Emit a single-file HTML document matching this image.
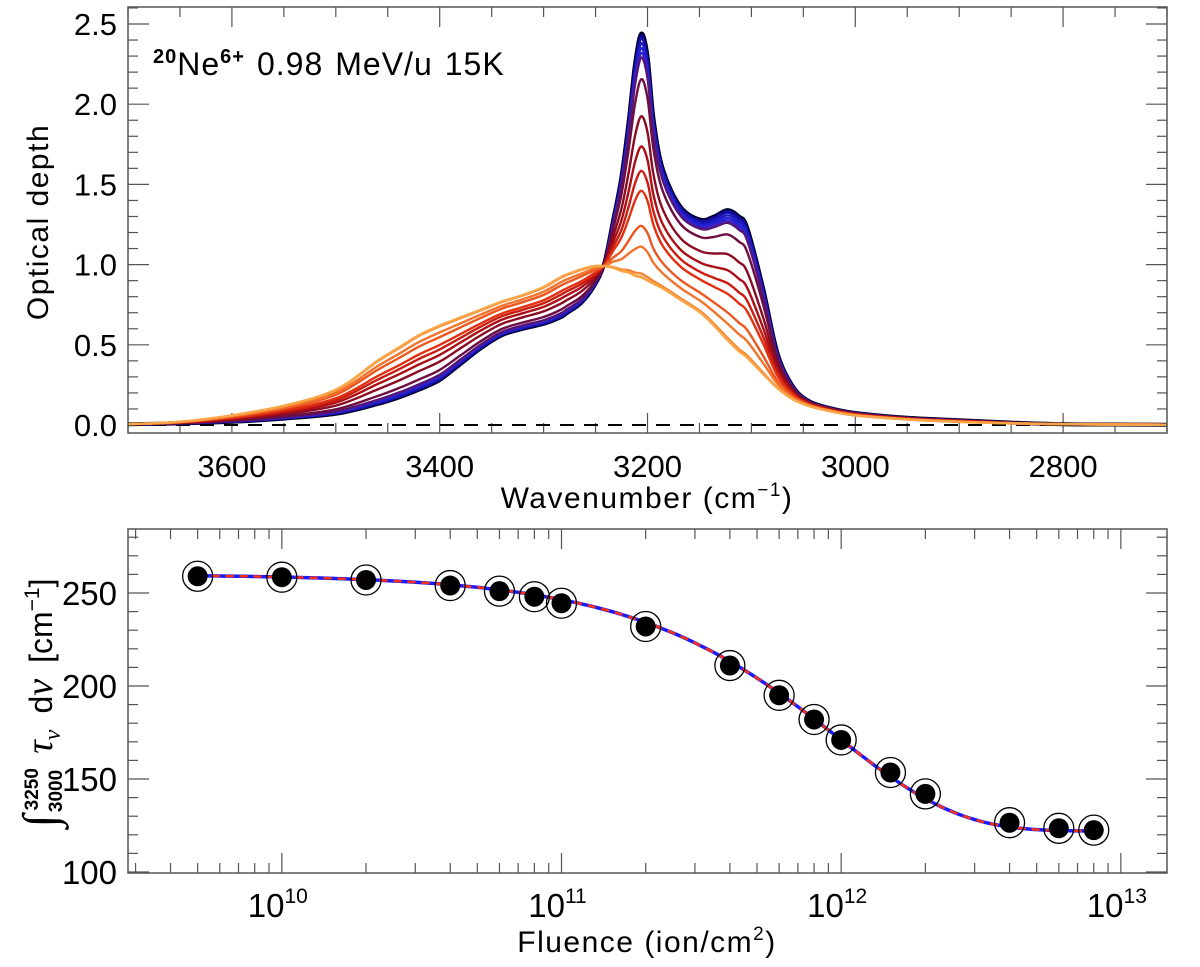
<!DOCTYPE html>
<html><head><meta charset="utf-8"><style>
html,body{margin:0;padding:0;background:#fff;}
svg{display:block;font-family:"Liberation Sans",sans-serif;}
</style></head><body>
<svg id="chart" width="1200" height="967" viewBox="0 0 1200 967" xmlns="http://www.w3.org/2000/svg">
<g id="topPanel"></g>
<g id="botPanel"></g>
</svg>
<script>
// ---- top panel data ----
const wavenumbers = [3700,3650,3600,3550,3500,3460,3440,3420,3400,3380,3360,3340,3320,3300,3284,3277,3264,3252,3242,3233,3225,3218,3212,3206,3200,3194,3185,3168,3149,3136,3123,3112,3104,3089,3075,3060,3045,3027,3000,2950,2900,2850,2800,2750,2700];
const initialDepth = [0.005,0.01,0.02,0.04,0.07,0.13,0.17,0.22,0.28,0.38,0.48,0.56,0.60,0.63,0.67,0.70,0.76,0.86,1.00,1.28,1.55,1.90,2.25,2.44,2.30,1.90,1.59,1.36,1.28,1.30,1.34,1.30,1.23,0.86,0.45,0.24,0.15,0.11,0.075,0.045,0.03,0.015,0.005,0.003,0.002];
const finalDepth   = [0.005,0.02,0.06,0.12,0.22,0.40,0.48,0.56,0.62,0.67,0.72,0.77,0.81,0.86,0.92,0.94,0.97,0.99,0.99,0.98,0.96,0.95,0.93,0.92,0.90,0.88,0.85,0.78,0.70,0.62,0.53,0.46,0.42,0.32,0.23,0.16,0.12,0.09,0.06,0.035,0.02,0.01,0.005,0.003,0.002];
const spectrumFluences = [0,5e9,1e10,2e10,4e10,6e10,8e10,1e11,2e11,4e11,6e11,8e11,1e12,1.5e12,2e12,4e12,6e12,8e12];
const yTicksTop = [0.0,0.5,1.0,1.5,2.0,2.5];
const xTicksTop = [3600,3400,3200,3000,2800];
// ---- bottom panel data ----
const fluences = [5e9,1e10,2e10,4e10,6e10,8e10,1e11,2e11,4e11,6e11,8e11,1e12,1.5e12,2e12,4e12,6e12,8e12];
const integrated = [259,258.5,257,254,251,248,244.5,232,211,195,182,171,153.5,142,126.5,123.5,122.5];
const fitParams = [260, 122, 1.035e-12]; // A0, Ainf, sigma
const yTicksBot = [100,150,200,250];
const xDecades = [10,11,12,13];

const NS="http://www.w3.org/2000/svg";
function el(tag,attrs,parent){const e=document.createElementNS(NS,tag);for(const k in attrs)e.setAttribute(k,attrs[k]);parent.appendChild(e);return e;}
function smoothPath(P){let d='M'+P[0][0].toFixed(1)+','+P[0][1].toFixed(1);
 for(let i=0;i<P.length-1;i++){const p0=P[Math.max(0,i-1)],p1=P[i],p2=P[i+1],p3=P[Math.min(P.length-1,i+2)];
  const c1=[p1[0]+(p2[0]-p0[0])/6,p1[1]+(p2[1]-p0[1])/6],c2=[p2[0]-(p3[0]-p1[0])/6,p2[1]-(p3[1]-p1[1])/6];
  d+=' C'+c1[0].toFixed(1)+','+c1[1].toFixed(1)+' '+c2[0].toFixed(1)+','+c2[1].toFixed(1)+' '+p2[0].toFixed(1)+','+p2[1].toFixed(1);}
 return d;}
const topG=document.getElementById('topPanel'), botG=document.getElementById('botPanel');
const FS=31;

// top axes
const L=128,R=1167,T1=7,B1=433;
const xT=w=>L+(3700-w)/1000*(R-L);
const yT=v=>425-v*160.4;
for(let w=3700;w>=2700;w-=50){const x=xT(w);const len=(w%200===0)?20:10;
 el('line',{x1:x,y1:B1,x2:x,y2:B1-len,stroke:'#555','stroke-width':1.2},topG);
 el('line',{x1:x,y1:T1,x2:x,y2:T1+len,stroke:'#555','stroke-width':1.2},topG);}
for(let i=0;i<=26;i++){const v=i/10;const y=yT(v);const len=(i%5===0)?21:10;
 el('line',{x1:L,y1:y,x2:L+len,y2:y,stroke:'#555','stroke-width':1.2},topG);
 el('line',{x1:R,y1:y,x2:R-len,y2:y,stroke:'#555','stroke-width':1.2},topG);}
yTicksTop.forEach(v=>{const t=el('text',{x:117,y:yT(v)+11,'text-anchor':'end','font-size':FS},topG);t.textContent=v.toFixed(1);
 
 });
xTicksTop.forEach(w=>{const t=el('text',{x:xT(w),y:477,'text-anchor':'middle','font-size':FS},topG);t.textContent=w;
 
 });
const zl=el('line',{x1:L,y1:yT(0),x2:R,y2:yT(0),stroke:'#000','stroke-width':2,'stroke-dasharray':'14,10'},topG);


const stops=[[0,[0,0,30]],[0.06,[10,0,120]],[0.33,[40,40,230]],[0.42,[90,20,110]],[0.5,[120,10,40]],[0.6,[180,15,20]],[0.7,[225,45,15]],[0.8,[240,110,40]],[1,[250,165,70]]];
function col(t){for(let i=1;i<stops.length;i++){if(t<=stops[i][0]){const a=stops[i-1],b=stops[i];const f=(t-a[0])/(b[0]-a[0]);return 'rgb('+a[1].map((c,k)=>Math.round(c+(b[1][k]-c)*f)).join(',')+')';}}return 'rgb(250,165,70)';}
const n=spectrumFluences.length;
spectrumFluences.forEach((F,i)=>{
 const frac=1-Math.exp(-fitParams[2]*F);
 const pts=wavenumbers.map((w,k)=>[xT(w),yT(initialDepth[k]+(finalDepth[k]-initialDepth[k])*frac)]);
 const p=el('path',{d:smoothPath(pts),fill:'none',stroke:col(i/(n-1)),'stroke-width':i===0?4:2.4,'stroke-linejoin':'round'},topG);
 
 
});
const frame1=el('rect',{x:L,y:T1,width:R-L,height:B1-T1,fill:'none',stroke:'#555','stroke-width':1.5},topG);


let tt=el('text',{x:153,y:75,'font-size':32,'letter-spacing':'1'},topG);
tt.innerHTML='<tspan font-size="20" font-weight="bold" dy="-12">20</tspan><tspan dy="12">Ne</tspan><tspan font-size="20" font-weight="bold" dy="-12">6+</tspan><tspan dy="12" dx="12">0.98</tspan><tspan dx="12">MeV/u</tspan><tspan dx="12">15K</tspan>';


let yt=el('text',{x:0,y:0,'font-size':30,'letter-spacing':'1.5','text-anchor':'middle',transform:'translate(48,222) rotate(-90)'},topG);yt.textContent='Optical depth';


let xt=el('text',{x:647,y:508,'font-size':30,'letter-spacing':'1.5','text-anchor':'middle'},topG);
xt.innerHTML='Wavenumber (cm<tspan font-size="19" dy="-12">−1</tspan><tspan dy="12">)</tspan>';



// bottom axes
const T2=529,B2=873;
const lmin=9.45,lmax=13.165;
const xB=F=>L+(Math.log10(F)-lmin)/(lmax-lmin)*(R-L);
const yB=v=>872-(v-100)/50*93;
const frame2=el('rect',{x:L,y:T2,width:R-L,height:B2-T2,fill:'none',stroke:'#555','stroke-width':1.5},botG);


for(let d=9;d<=13;d++)for(let m=1;m<=9;m++){const F=m*Math.pow(10,d);const lg=Math.log10(F);if(lg<lmin||lg>lmax)continue;const x=xB(F);const len=m===1?20:10;
 el('line',{x1:x,y1:B2,x2:x,y2:B2-len,stroke:'#555','stroke-width':1.2},botG);
 el('line',{x1:x,y1:T2,x2:x,y2:T2+len,stroke:'#555','stroke-width':1.2},botG);}
for(let v=100;v<=280;v+=10){const y=yB(v);const len=(v%50===0)?21:10;
 el('line',{x1:L,y1:y,x2:L+len,y2:y,stroke:'#555','stroke-width':1.2},botG);
 el('line',{x1:R,y1:y,x2:R-len,y2:y,stroke:'#555','stroke-width':1.2},botG);}
yTicksBot.forEach(v=>{const t=el('text',{x:117,y:yB(v)+12,'text-anchor':'end','font-size':33},botG);t.textContent=v;
 
 });
xDecades.forEach(d=>{const t=el('text',{x:xB(Math.pow(10,d))-4,y:917,'text-anchor':'middle','font-size':33},botG);
 t.innerHTML='10<tspan font-size="21" dy="-14">'+d+'</tspan>';
 
 });
const fpts=[];
for(let lg=Math.log10(fluences[0]);lg<=Math.log10(fluences[fluences.length-1])+1e-9;lg+=0.02){const F=Math.pow(10,lg);const v=fitParams[1]+(fitParams[0]-fitParams[1])*Math.exp(-fitParams[2]*F);fpts.push(xB(F).toFixed(1)+','+yB(v).toFixed(1));}
const fb=el('polyline',{points:fpts.join(' '),fill:'none',stroke:'#1a1aff','stroke-width':3.5},botG);


const fr=el('polyline',{points:fpts.join(' '),fill:'none',stroke:'#ff3010','stroke-width':2.5,'stroke-dasharray':'8,6'},botG);


fluences.forEach((F,i)=>{const x=xB(F),y=yB(integrated[i]);
 const g=el('g',{},botG);
 
 
 el('circle',{cx:x,cy:y,r:15,fill:'none',stroke:'#000','stroke-width':1.3},g);
 el('circle',{cx:x,cy:y,r:10,fill:'#000'},g);});
let yb=el('text',{x:0,y:0,'font-size':32,'text-anchor':'middle',transform:'translate(52,703) rotate(-90)'},botG);
yb.innerHTML='<tspan font-size="48" font-family="Liberation Serif" font-style="italic" dy="4">∫</tspan><tspan font-size="19" font-weight="bold" dx="4" dy="-18">3250</tspan><tspan font-size="19" font-weight="bold" dx="-44" dy="24">3000</tspan><tspan dx="16" dy="-10" font-family="Liberation Serif" font-style="italic" font-size="38">τ</tspan><tspan font-size="24" dy="8" font-family="Liberation Serif" font-style="italic">ν</tspan><tspan dx="16" dy="-8">d</tspan><tspan font-family="Liberation Serif" font-style="italic" font-size="38">ν</tspan><tspan dx="16">[cm</tspan><tspan font-size="21" dy="-13">−1</tspan><tspan dy="13">]</tspan>';


let xb=el('text',{x:647,y:952,'font-size':30,'letter-spacing':'1.5','text-anchor':'middle'},botG);
xb.innerHTML='Fluence (ion/cm<tspan font-size="19" dy="-12">2</tspan><tspan dy="12">)</tspan>';


</script>
</body></html>
